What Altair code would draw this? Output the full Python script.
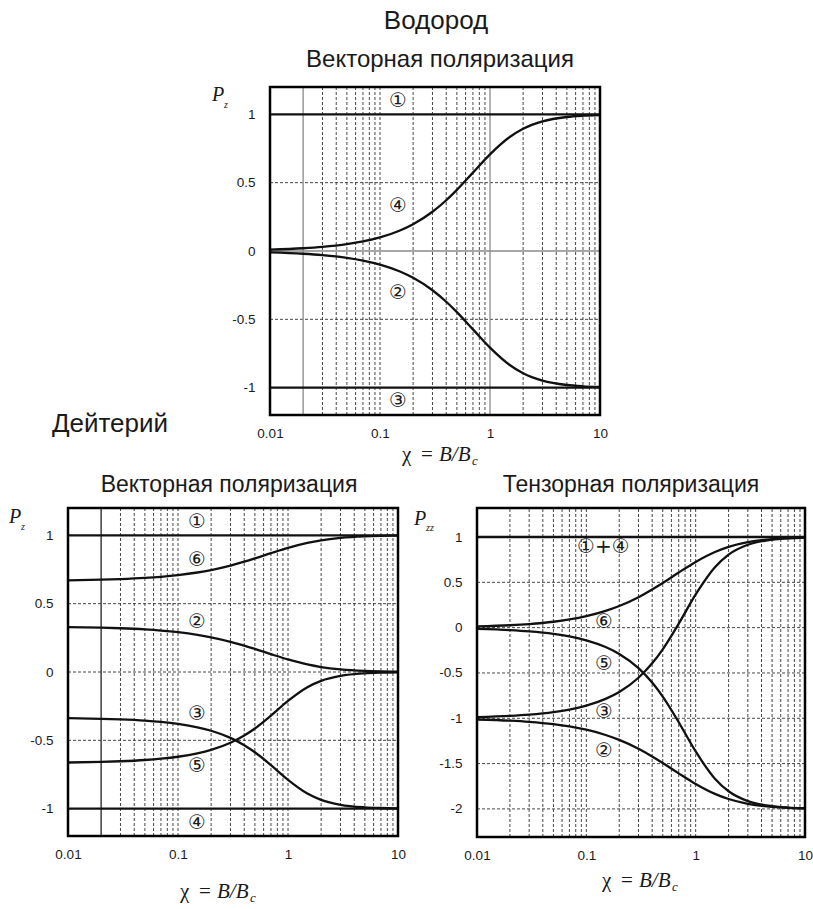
import altair as alt
import pandas as pd

# Field in units of the critical field, chi = B / B_c
chi = [0.01, 0.02, 0.03, 0.05, 0.07, 0.1, 0.15, 0.2, 0.3, 0.4, 0.5, 0.7,
       1, 1.5, 2, 3, 5, 7, 10]
chi_ends = [0.01, 10]

# Hydrogen: vector polarization of the hyperfine states
h_state1 = [1, 1]
h_state3 = [-1, -1]
h_state4 = [0.0100, 0.0200, 0.0300, 0.0499, 0.0698, 0.0995, 0.1483, 0.1961,
            0.2873, 0.3714, 0.4472, 0.5735, 0.7071, 0.8321, 0.8944, 0.9487,
            0.9806, 0.9899, 0.9950]
h_state2 = [-0.0100, -0.0200, -0.0300, -0.0499, -0.0698, -0.0995, -0.1483,
            -0.1961, -0.2873, -0.3714, -0.4472, -0.5735, -0.7071, -0.8321,
            -0.8944, -0.9487, -0.9806, -0.9899, -0.9950]

# Deuterium: vector polarization
dv_state1 = [1, 1]
dv_state4 = [-1, -1]
dv_state6 = [0.6711, 0.6755, 0.6798, 0.6883, 0.6967, 0.7088, 0.7281, 0.7462,
             0.7788, 0.8070, 0.8311, 0.8694, 0.9082, 0.9446, 0.9636, 0.9811,
             0.9924, 0.9959, 0.9979]
dv_state2 = [0.3289, 0.3245, 0.3202, 0.3117, 0.3033, 0.2912, 0.2719, 0.2538,
             0.2212, 0.1930, 0.1689, 0.1306, 0.0918, 0.0554, 0.0364, 0.0189,
             0.0076, 0.0041, 0.0021]
dv_state3 = [-0.3378, -0.3423, -0.3469, -0.3561, -0.3655, -0.3799, -0.4046,
             -0.4300, -0.4823, -0.5353, -0.5870, -0.6812, -0.7887, -0.8889,
             -0.9352, -0.9714, -0.9901, -0.9951, -0.9976]
dv_state5 = [-0.6622, -0.6577, -0.6531, -0.6439, -0.6345, -0.6201, -0.5954,
             -0.5700, -0.5177, -0.4647, -0.4130, -0.3188, -0.2113, -0.1111,
             -0.0648, -0.0286, -0.0099, -0.0049, -0.0024]

# Deuterium: tensor polarization
dt_state14 = [1, 1]
dt_state6 = [0.0133, 0.0265, 0.0394, 0.0649, 0.0901, 0.1264, 0.1843, 0.2386,
             0.3364, 0.4210, 0.4933, 0.6082, 0.7246, 0.8338, 0.8908, 0.9433,
             0.9772, 0.9877, 0.9937]
dt_state2 = [-1.0133, -1.0265, -1.0394, -1.0649, -1.0901, -1.1264, -1.1843,
             -1.2386, -1.3364, -1.4210, -1.4933, -1.6082, -1.7246, -1.8338,
             -1.8908, -1.9433, -1.9772, -1.9877, -1.9937]
dt_state3 = [-0.9866, -0.9731, -0.9593, -0.9317, -0.9035, -0.8603, -0.7862,
             -0.7100, -0.5531, -0.3941, -0.2390, 0.0436, 0.3661, 0.6667,
             0.8056, 0.9142, 0.9703, 0.9853, 0.9928]
dt_state5 = [-0.0134, -0.0269, -0.0407, -0.0683, -0.0965, -0.1397, -0.2138,
             -0.2900, -0.4469, -0.6059, -0.7610, -1.0436, -1.3661, -1.6667,
             -1.8056, -1.9142, -1.9703, -1.9853, -1.9928]

# Logarithmic grid positions inside the frame
log_grid = [0.02, 0.03, 0.04, 0.05, 0.06, 0.07, 0.08, 0.09,
            0.1, 0.2, 0.3, 0.4, 0.5, 0.6, 0.7, 0.8, 0.9,
            1, 2, 3, 4, 5, 6, 7, 8, 9]
x_ticks = [0.01, 0.1, 1, 10]
x_domain = [0.01, 10]

# State labels (position and text)
h_lab_chi = [0.146, 0.146, 0.146, 0.146]
h_lab_val = [1.095, 0.326, -0.304, -1.10]
h_lab_txt = ["①", "④", "②", "③"]

dv_lab_chi = [0.149, 0.149, 0.149, 0.149, 0.149, 0.149]
dv_lab_val = [1.10, 0.817, 0.365, -0.304, -0.685, -1.105]
dv_lab_txt = ["①", "⑥", "②", "③", "⑤", "④"]

dt_lab_chi = [0.143, 0.145, 0.145, 0.145, 0.145]
dt_lab_val = [0.886, 0.066, -0.40, -0.926, -1.36]
dt_lab_txt = ["①+④", "⑥", "⑤", "③", "②"]

SANS = "Liberation Sans"
SERIF = "Liberation Serif"
INK = "#1a1a1a"
W, H = 737, 750


def frame(series):
    rows = []
    for name, xs, ys in series:
        for a, b in zip(xs, ys):
            rows.append({"chi": a, "p": b, "state": name})
    return pd.DataFrame(rows)


def text_at(txt, x, y, size, font=SANS, style="normal", align="left"):
    return alt.Chart(pd.DataFrame({"t": [txt]})).mark_text(
        font=font, fontSize=size, fontStyle=style, align=align,
        baseline="alphabetic", color=INK,
    ).encode(x=alt.value(x), y=alt.value(y), text="t:N")


def chi_title(x0, base):
    # chi = B/B_c: upright chi, italic B/B, subscript c
    return [
        text_at("χ", x0, base, 21, font=SERIF),
        text_at("=", x0 + 19, base, 21, font=SERIF),
        text_at("B/B", x0 + 37, base, 21, font=SERIF, style="italic"),
        text_at("c", x0 + 70, base + 4, 13, font=SERIF, style="italic"),
    ]


def panel(series, x_range, y_range, y_domain, y_ticks, x_off, y_off,
          dashed_x, dashed_y, solid_x, solid_y, solid_color,
          lab_chi, lab_val, lab_txt):
    xs = alt.Scale(type="log", domain=x_domain, range=x_range, nice=False)
    ys = alt.Scale(domain=y_domain, range=y_range, nice=False, zero=False)
    xax = alt.Axis(values=x_ticks, labelExpr="'' + datum.value",
                   orient="bottom", offset=x_off, labelPadding=11,
                   labelFlush=False, labelOverlap=False)
    yax = alt.Axis(values=y_ticks, labelExpr="'' + datum.value",
                   orient="left", offset=y_off, labelPadding=15,
                   labelOverlap=False)

    def X(f):
        return alt.X(f, scale=xs, axis=xax, title=None)

    def Y(f):
        return alt.Y(f, scale=ys, axis=yax, title=None)

    def vrules(vals):
        return pd.DataFrame({"g": vals, "lo": [y_domain[0]] * len(vals),
                             "hi": [y_domain[1]] * len(vals)})

    def hrules(vals):
        return pd.DataFrame({"g": vals, "lo": [x_domain[0]] * len(vals),
                             "hi": [x_domain[1]] * len(vals)})

    grid_style = dict(strokeDash=[3, 2], color="#333333", strokeWidth=0.9)
    layers = [
        alt.Chart(vrules(dashed_x)).mark_rule(**grid_style)
        .encode(x=X("g:Q"), y=Y("lo:Q"), y2="hi:Q"),
        alt.Chart(hrules(dashed_y)).mark_rule(**grid_style)
        .encode(y=Y("g:Q"), x=X("lo:Q"), x2="hi:Q"),
    ]
    if solid_x:
        layers.append(alt.Chart(vrules(solid_x))
                      .mark_rule(color=solid_color, strokeWidth=1.3)
                      .encode(x=X("g:Q"), y=Y("lo:Q"), y2="hi:Q"))
    if solid_y:
        layers.append(alt.Chart(hrules(solid_y))
                      .mark_rule(color=solid_color, strokeWidth=1.3)
                      .encode(y=Y("g:Q"), x=X("lo:Q"), x2="hi:Q"))
    layers.append(
        alt.Chart(frame(series)).mark_line(
            color="#111111", strokeWidth=2.3, interpolate="monotone"
        ).encode(x=X("chi:Q"), y=Y("p:Q"), detail="state:N")
    )
    labels = pd.DataFrame({"chi": lab_chi, "p": lab_val, "t": lab_txt})
    layers.append(
        alt.Chart(labels).mark_text(font="DejaVu Sans", fontSize=20,
                                    color=INK, baseline="middle")
        .encode(x=X("chi:Q"), y=Y("p:Q"), text="t:N")
    )
    box = pd.DataFrame({"x0": [x_domain[0]], "x1": [x_domain[1]],
                        "y0": [y_domain[0]], "y1": [y_domain[1]]})
    layers.append(
        alt.Chart(box).mark_rect(fillOpacity=0, stroke="#000000",
                                 strokeWidth=2.5)
        .encode(x=X("x0:Q"), x2="x1:Q", y=Y("y0:Q"), y2="y1:Q")
    )
    return alt.layer(*layers)


hydrogen = panel(
    [("1", chi_ends, h_state1), ("3", chi_ends, h_state3),
     ("2", chi, h_state2), ("4", chi, h_state4)],
    [202, 532], [328, 0], [-1.2, 1.2], [-1, -0.5, 0, 0.5, 1], -422, -202,
    [v for v in log_grid if v not in (0.02, 1)], [-0.5, 0.5],
    [0.02, 1], [0], "#8a8a8a",
    h_lab_chi, h_lab_val, h_lab_txt,
)

deut_vector = panel(
    [("1", chi_ends, dv_state1), ("4", chi_ends, dv_state4),
     ("6", chi, dv_state6), ("2", chi, dv_state2),
     ("3", chi, dv_state3), ("5", chi, dv_state5)],
    [0, 330], [749, 421], [-1.2, 1.2], [-1, -0.5, 0, 0.5, 1], -1, 0,
    [v for v in log_grid if v != 0.02], [-0.5, 0, 0.5],
    [0.02], [], "#222222",
    dv_lab_chi, dv_lab_val, dv_lab_txt,
)

deut_tensor = panel(
    [("14", chi_ends, dt_state14), ("6", chi, dt_state6),
     ("2", chi, dt_state2), ("3", chi, dt_state3), ("5", chi, dt_state5)],
    [409, 737], [750, 421], [-2.31, 1.32], [-2, -1.5, -1, -0.5, 0, 0.5, 1],
    0, -409,
    log_grid, [-2, -1.5, -1, -0.5, 0, 0.5],
    [], [], "#222222",
    dt_lab_chi, dt_lab_val, dt_lab_txt,
)

# Headings, axis titles and an invisible corner mark that pins the origin
texts = alt.layer(
    alt.Chart(pd.DataFrame({"a": [0]})).mark_rule(opacity=0, strokeWidth=1)
    .encode(x=alt.value(-68), x2=alt.value(-67), y=alt.value(-87),
            y2=alt.value(-87)),
    text_at("Водород", 368, -58, 26, align="center"),
    text_at("Векторная поляризация", 372, -20, 24, align="center"),
    text_at("Дейтерий", 42, 345, 26, align="center"),
    text_at("Векторная поляризация", 161, 405, 23, align="center"),
    text_at("Тензорная поляризация", 563, 405, 23, align="center"),
    text_at("P", 144, 14, 20, font=SERIF, style="italic"),
    text_at("z", 156, 21, 10, font=SERIF, style="italic"),
    text_at("P", -59, 436, 20, font=SERIF, style="italic"),
    text_at("z", -47, 443, 10, font=SERIF, style="italic"),
    text_at("P", 346, 438, 20, font=SERIF, style="italic"),
    text_at("zz", 358, 444, 10, font=SERIF, style="italic"),
    *chi_title(334, 374),
    *chi_title(112, 811),
    *chi_title(534, 800),
)

chart = alt.layer(
    hydrogen, deut_vector, deut_tensor, texts
).resolve_scale(
    x="independent", y="independent"
).resolve_axis(
    x="independent", y="independent"
).properties(
    width=W, height=H, padding=0, background="white"
).configure_view(
    stroke="transparent"
).configure_axis(
    labelFont=SANS, labelFontSize=13.5, labelColor=INK, grid=False,
    domain=False, ticks=False, tickSize=0,
)

chart.save("out.html", embed_options={"renderer": "svg", "actions": False})
